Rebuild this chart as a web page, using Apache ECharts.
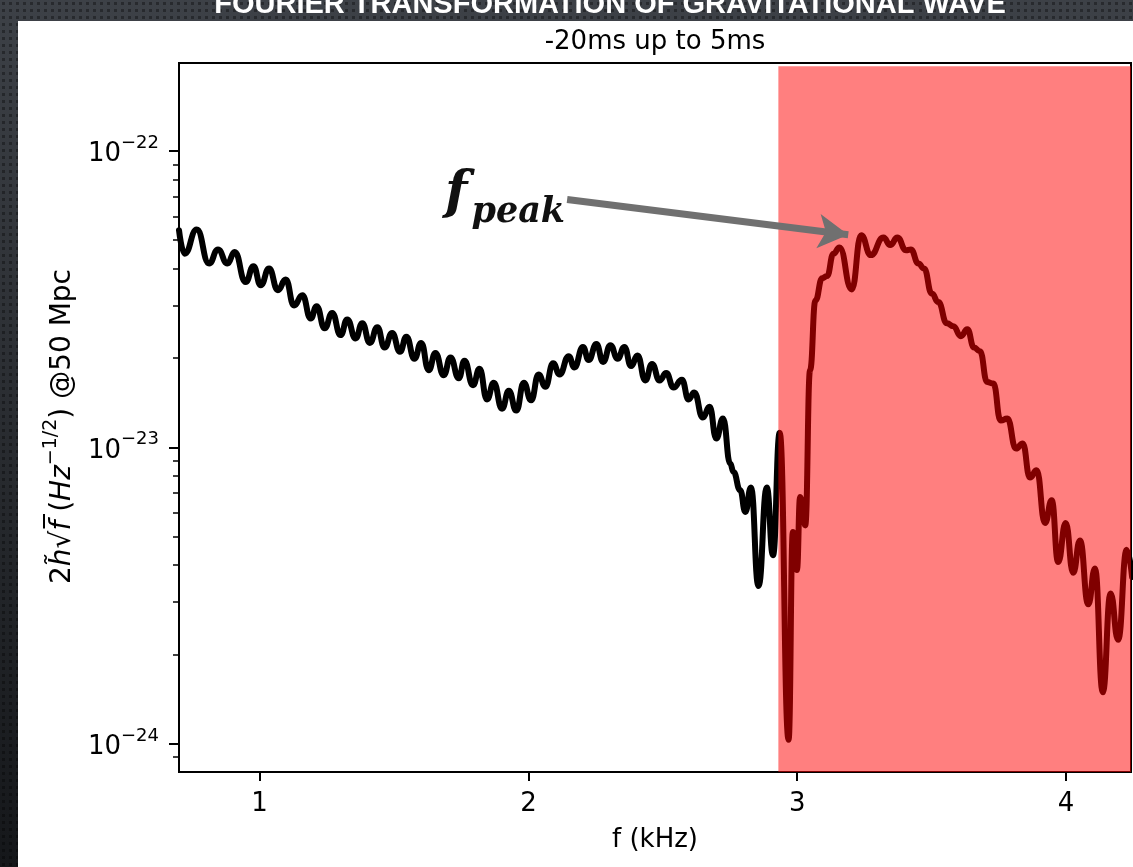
<!DOCTYPE html>
<html>
<head>
<meta charset="utf-8">
<script src="https://cdn.jsdelivr.net/npm/echarts@6/dist/echarts.min.js"></script>
<style>
  html, body { margin: 0; padding: 0; }
  body {
    width: 1133px; height: 867px; overflow: hidden;
    background:
      radial-gradient(circle, rgba(0,0,0,0.35) 32%, rgba(0,0,0,0) 34%) 0 0 / 7px 7px,
      linear-gradient(#3d4147, #15171a);
  }
  #c { width: 1133px; height: 867px; }
</style>
</head>
<body>
<div id="c"></div>
<script>
// ---- data ----
const freqKHz = [
  0.700,0.721,0.766,0.812,0.845,0.880,0.907,0.948,0.977,1.004,
  1.035,1.068,1.097,1.128,1.159,1.190,1.212,1.242,1.270,1.301,
  1.326,1.357,1.382,1.410,1.438,1.465,1.493,1.522,1.546,1.576,
  1.601,1.629,1.654,1.685,1.710,1.741,1.762,1.794,1.818,1.846,
  1.871,1.902,1.927,1.955,1.983,2.010,2.038,2.063,2.092,2.116,
  2.150,2.171,2.203,2.224,2.253,2.278,2.305,2.332,2.357,2.382,
  2.406,2.435,2.460,2.488,2.513,2.540,2.571,2.596,2.617,2.649,
  2.674,2.699,2.724,2.751,2.763,2.788,2.807,2.828,2.856,2.887,
  2.910,2.935,2.968,2.984,2.999,3.011,3.030,3.048,3.068,3.093,
  3.111,3.135,3.157,3.203,3.238,3.274,3.321,3.346,3.373,3.405,
  3.423,3.451,3.472,3.501,3.525,3.557,3.581,3.609,3.633,3.658,
  3.680,3.707,3.730,3.757,3.782,3.814,3.839,3.866,3.891,3.922,
  3.947,3.971,3.999,4.027,4.052,4.083,4.108,4.137,4.166,4.194,
  4.226,4.246
];
// amplitude 2|h~|sqrt(f), in units of 1e-23 Hz^-1/2
const strainE23 = [
  5.40,4.50,5.43,4.17,4.65,4.17,4.56,3.61,4.08,3.52,
  4.01,3.39,3.68,3.01,3.26,2.72,2.99,2.52,2.84,2.39,
  2.70,2.33,2.62,2.25,2.54,2.17,2.43,2.10,2.36,1.99,
  2.25,1.82,2.08,1.75,2.01,1.71,1.96,1.62,1.84,1.45,
  1.65,1.35,1.55,1.33,1.65,1.44,1.76,1.60,1.92,1.76,
  2.03,1.86,2.18,1.97,2.23,1.94,2.21,1.99,2.18,1.88,
  2.04,1.68,1.91,1.68,1.78,1.59,1.69,1.45,1.53,1.26,
  1.37,1.07,1.25,0.881,0.825,0.716,0.605,0.731,0.340,0.731,
  0.432,1.12,0.103,0.518,0.385,0.680,0.545,1.82,3.13,3.72,
  3.78,4.50,4.72,3.41,5.19,4.45,5.10,4.81,5.10,4.62,
  4.65,4.17,4.01,3.30,3.09,2.62,2.56,2.37,2.50,2.17,
  2.11,1.66,1.64,1.23,1.25,0.990,1.03,0.790,0.836,0.555,
  0.662,0.410,0.555,0.377,0.485,0.295,0.390,0.149,0.321,0.224,
  0.451,0.365
];
const UNIT_EXP = -23;                       // strainE23 values are ×10^-23
const xTicks = [1, 2, 3, 4];
const yMajorTicks = [0.1, 1, 10];           // 10^-24, 10^-23, 10^-22
const yMinorTicks = [
  0.09,
  0.2,0.3,0.4,0.5,0.6,0.7,0.8,0.9,
  2,3,4,5,6,7,8,9
];
const xRange = [0.70, 4.242];
const yRange = [0.0802, 19.8];
const shadedX = [2.93, 4.242];              // red band (kHz)
const shadedTop = 19.3;                     // band top, a hair below the frame
const peakArrowFrom = [2.144, 6.86];
const peakArrowTo = [3.190, 5.21];

const lineData = freqKHz.map((f, i) => [f, strainE23[i]]);

const chart = echarts.init(document.getElementById('c'), null, { renderer: 'canvas' });
const FONT = '"DejaVu Sans", sans-serif';

const yLabelFmt = function (v) {
  const e = Math.round(Math.log10(v)) + UNIT_EXP;
  return '{b|10}{s|' + (e < 0 ? '\u2212' : '') + Math.abs(e) + '}';
};

chart.setOption({
  backgroundColor: 'transparent',
  animation: false,
  graphic: [
    { type: 'rect', z: -10, silent: true,
      shape: { x: 18, y: 21, width: 1115, height: 846 },
      style: { fill: '#ffffff' } },
    { type: 'text', z: -5, silent: true, x: 610, y: 19,
      style: { text: 'FOURIER TRANSFORMATION OF GRAVITATIONAL WAVE', fill: '#ffffff',
        font: 'bold 29px "Liberation Sans", sans-serif', align: 'center', verticalAlign: 'bottom' } },
    { type: 'text', silent: true, x: 655, y: 42,
      style: { text: '-20ms up to 5ms', fill: '#000000',
        font: '26px "DejaVu Sans", sans-serif', align: 'center', verticalAlign: 'middle' } }
  ],
  grid: {
    left: 179, right: 2, top: 63, bottom: 95,
    show: true, borderColor: '#000', borderWidth: 2, backgroundColor: 'transparent'
  },
  xAxis: {
    type: 'value', min: xRange[0], max: xRange[1],
    name: 'f (kHz)', nameLocation: 'middle', nameGap: 55,
    nameTextStyle: { fontFamily: FONT, fontSize: 26, color: '#000' },
    axisLine: { show: true, lineStyle: { color: '#000', width: 2 } },
    axisTick: { show: true, length: 9, lineStyle: { color: '#000', width: 2 }, customValues: xTicks },
    axisLabel: {
      margin: 19, customValues: xTicks,
      formatter: function (v) { return '{t|' + v + '}'; },
      rich: { t: { fontFamily: FONT, fontSize: 26, color: '#000' } }
    },
    splitLine: { show: false }
  },
  yAxis: [
    {
      type: 'log', logBase: 10, min: yRange[0], max: yRange[1],
      name: '{n|2}{i|h\u0303}{n|\u221A}{i|f\u0305}{n| (}{i|Hz}{s|\u22121/2}{e|) @50 Mpc}',
      nameLocation: 'middle', nameGap: 100, nameRotate: 90,
      nameTextStyle: {
        color: '#000',
        rich: {
          n: { fontFamily: FONT, fontSize: 28, color: '#000', verticalAlign: 'bottom', padding: [7, 0, 0, 0] },
          e: { fontFamily: FONT, fontSize: 28, color: '#000', verticalAlign: 'bottom', padding: [7, 18, 0, 0] },
          i: { fontFamily: FONT, fontSize: 28, fontStyle: 'italic', color: '#000', verticalAlign: 'bottom', padding: [7, 0, 0, 0] },
          s: { fontFamily: FONT, fontSize: 19, color: '#000', verticalAlign: 'top' }
        }
      },
      axisLine: { show: true, lineStyle: { color: '#000', width: 2 } },
      axisTick: { show: true, length: 10, lineStyle: { color: '#000', width: 2 }, customValues: yMajorTicks },
      axisLabel: {
        margin: 20, customValues: yMajorTicks, formatter: yLabelFmt,
        rich: {
          b: { fontFamily: FONT, fontSize: 26, color: '#000', verticalAlign: 'bottom', padding: [7, 0, 0, 0] },
          s: { fontFamily: FONT, fontSize: 18, color: '#000', verticalAlign: 'top' }
        }
      },
      splitLine: { show: false }, minorTick: { show: false }
    },
    {
      type: 'log', logBase: 10, min: yRange[0], max: yRange[1], position: 'left',
      axisLine: { show: false },
      axisTick: { show: true, length: 6, lineStyle: { color: '#000', width: 1.5 }, customValues: yMinorTicks },
      axisLabel: { show: false },
      splitLine: { show: false }
    }
  ],
  series: [
    {
      type: 'line', xAxisIndex: 0, yAxisIndex: 0, z: 2,
      data: lineData,
      showSymbol: false, symbol: 'none',
      smooth: 0.5, smoothMonotone: 'x',
      lineStyle: { color: '#000', width: 6, cap: 'round', join: 'round' },
      markArea: {
        z: 3, silent: true,
        itemStyle: { color: 'rgba(255,0,0,0.5)' },
        data: [[ { xAxis: shadedX[0], yAxis: yRange[0] }, { xAxis: shadedX[1], yAxis: shadedTop } ]]
      },
      markLine: {
        z: 5, silent: true, animation: false,
        symbol: ['none', 'arrow'], symbolSize: [26, 30],
        lineStyle: { color: '#707070', width: 7, type: 'solid' },
        label: { show: false },
        data: [[ { coord: peakArrowFrom }, { coord: peakArrowTo } ]]
      },
      markPoint: {
        z: 6, silent: true, symbol: 'circle', symbolSize: 0,
        data: [{ coord: peakArrowFrom }],
        label: {
          show: true, position: 'left', distance: 2,
          formatter: '{f|f}{p|peak}',
          rich: {
            f: { fontFamily: '"DejaVu Serif", serif', fontWeight: 'bold', fontStyle: 'italic',
                 fontSize: 52, color: '#111', verticalAlign: 'bottom', padding: [0, 4, 10, 0] },
            p: { fontFamily: '"DejaVu Serif", serif', fontWeight: 'bold', fontStyle: 'italic',
                 fontSize: 35, color: '#111', verticalAlign: 'bottom' }
          }
        }
      }
    }
  ]
});
</script>
</body>
</html>
